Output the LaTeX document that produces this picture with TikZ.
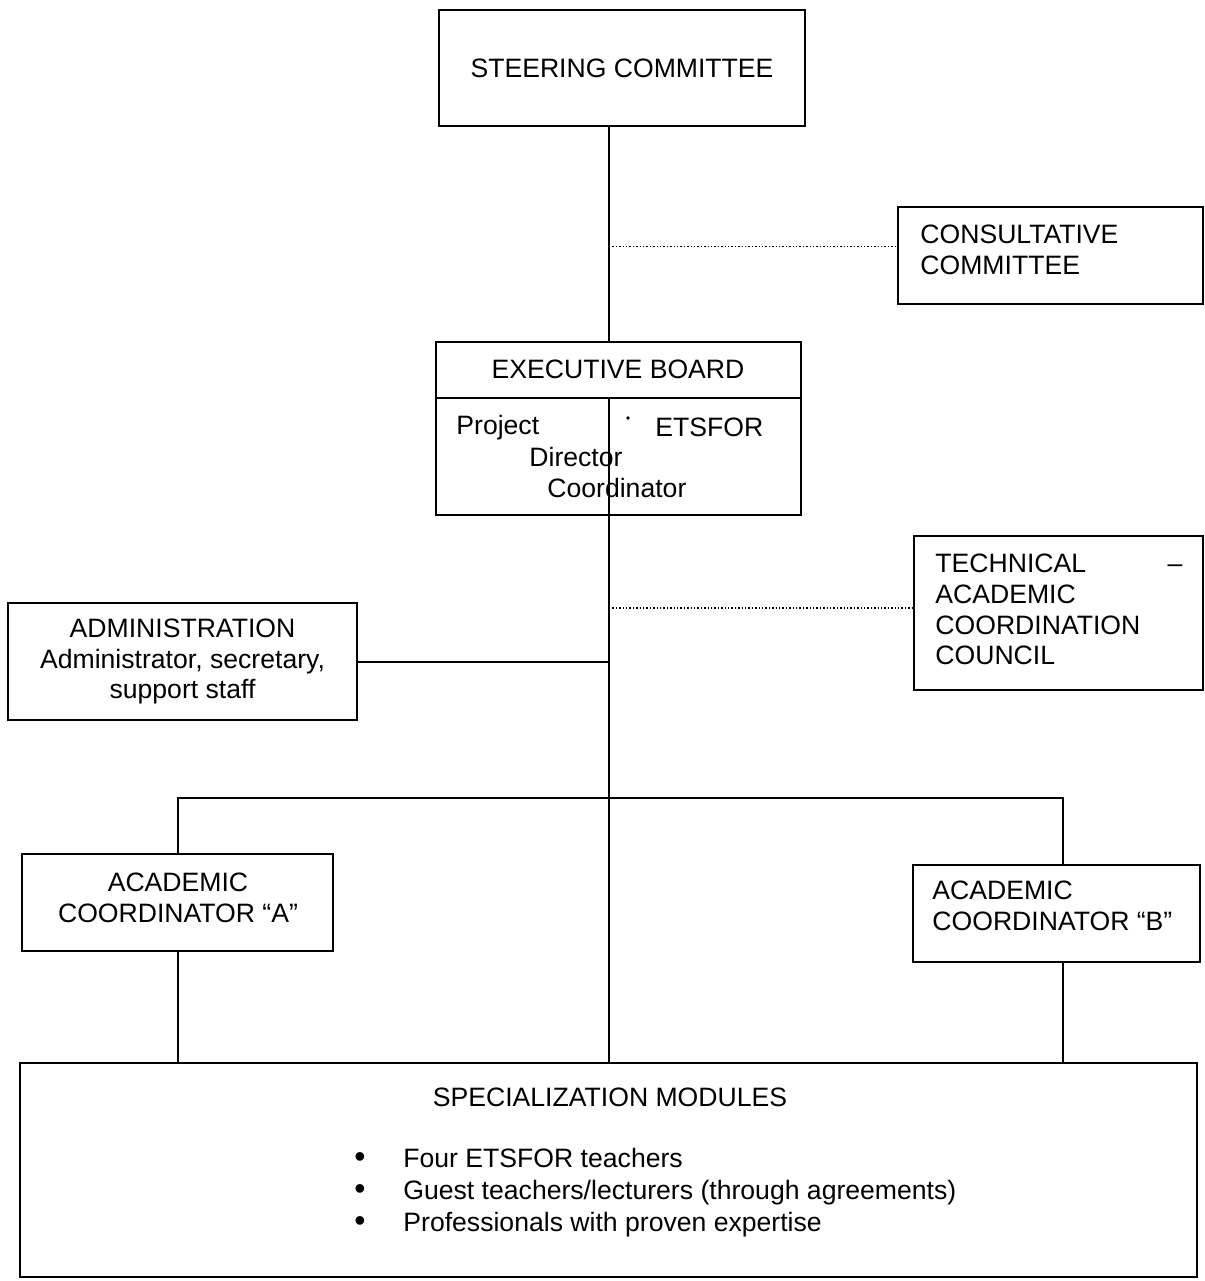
\documentclass[tikz,border=0pt]{standalone}
\usepackage{fontspec}
\setmainfont{Liberation Sans}
\tikzset{
  box/.style={draw,line width=1pt,inner sep=0pt,align=center},
  link/.style={line width=1pt},
  faint/.style={line width=.7pt,densely dotted},
  txt/.style={inner sep=0pt},
}

\begin{document}
\begin{tikzpicture}[x=.5pt,y=-.5pt,font=\fontsize{13.3}{15.4}\selectfont]
 \useasboundingbox (0,0) rectangle (1205,1281);
 % boxes
 \node[box,minimum width=183pt,minimum height=58pt] (steering) at (622,68) {STEERING COMMITTEE};
 \node[box,minimum width=152.5pt,minimum height=48.5pt] (consult) at (1050.5,255.5) {};
 \node[box,minimum width=182.5pt,minimum height=86.5pt] (board) at (618.5,428.5) {};
 \node[box,minimum width=144.5pt,minimum height=77pt] (council) at (1058.5,613) {};
 \node[box,minimum width=174.5pt,minimum height=58.5pt] (admin) at (182.5,661.5) {ADMINISTRATION\\Administrator, secretary,\\support staff};
 \node[box,minimum width=155.5pt,minimum height=48.5pt] (acadA) at (177.5,902) {};
 \node[box,minimum width=143.5pt,minimum height=48.5pt] (acadB) at (1056.5,913.5) {};
 \node[box,minimum width=588.5pt,minimum height=107pt] (modules) at (608.5,1170) {};

 % box texts
 \node[txt,anchor=base west,align=left] (consulttext) at (920,274.5) {CONSULTATIVE\\COMMITTEE};
 \node[txt,anchor=base west,align=left,text width=123.5pt] (counciltext) at (935,572.5) {TECHNICAL\hfill --\\ACADEMIC\\COORDINATION\\COUNCIL};
 \node[txt,anchor=base,align=center] (acadAtext) at (178,922.5) {ACADEMIC\\COORDINATOR “A”};
 \node[txt,anchor=base west,align=left] (acadBtext) at (932,930.5) {ACADEMIC\\COORDINATOR “B”};

 % executive board contents
 \node[txt,anchor=base] (boardtitle) at (618,378) {EXECUTIVE BOARD};
 \node[txt,anchor=base west] (project) at (456,434) {Project};
 \node[txt,anchor=base west] (etsfor) at (655,436) {ETSFOR};
 \node[txt,anchor=base west] (director) at (529,466) {Director};
 \node[txt,anchor=base west] (coordinator) at (547,497) {Coordinator};
 \fill (628,418) circle (.9pt);

 % modules contents
 \node[txt,anchor=base] (modtitle) at (610,1106) {SPECIALIZATION MODULES};
 \foreach \entry [count=\i] in {Four ETSFOR teachers,Guest teachers/lecturers (through agreements),Professionals with proven expertise}
   \node[txt,anchor=base west] (entry\i) at (354,1135+32*\i) {\makebox[24.5pt][l]{\fontsize{16}{16}\selectfont\textbullet}\entry};

 % connectors
 \coordinate (trunk) at (609,398);
 \coordinate (bar) at (609,798);
 \coordinate (cw) at ([yshift=4.5pt]consult.west);
 \coordinate (tw) at ([yshift=2.5pt]council.west);
 \coordinate (bN) at ([xshift=3.25pt]acadB.north);
 \coordinate (bS) at ([xshift=3.25pt]acadB.south);
 \draw[link] (board.west |- trunk) -- (board.east |- trunk);
 \draw[link] (steering.south -| trunk) -- (board.north -| trunk);
 \draw[link] (trunk) -- (modules.north -| trunk);
 \draw[faint] (cw -| trunk) -- (cw);
 \draw[faint] (tw -| trunk) -- (tw);
 \draw[link] (admin.east) -- (admin.east -| trunk);
 \draw[link] (acadA.north) |- (bar) -| (bN);
 \draw[link] (acadA.south) -- (acadA.south |- modules.north);
 \draw[link] (bS) -- (bS |- modules.north);
\end{tikzpicture}
\end{document}
